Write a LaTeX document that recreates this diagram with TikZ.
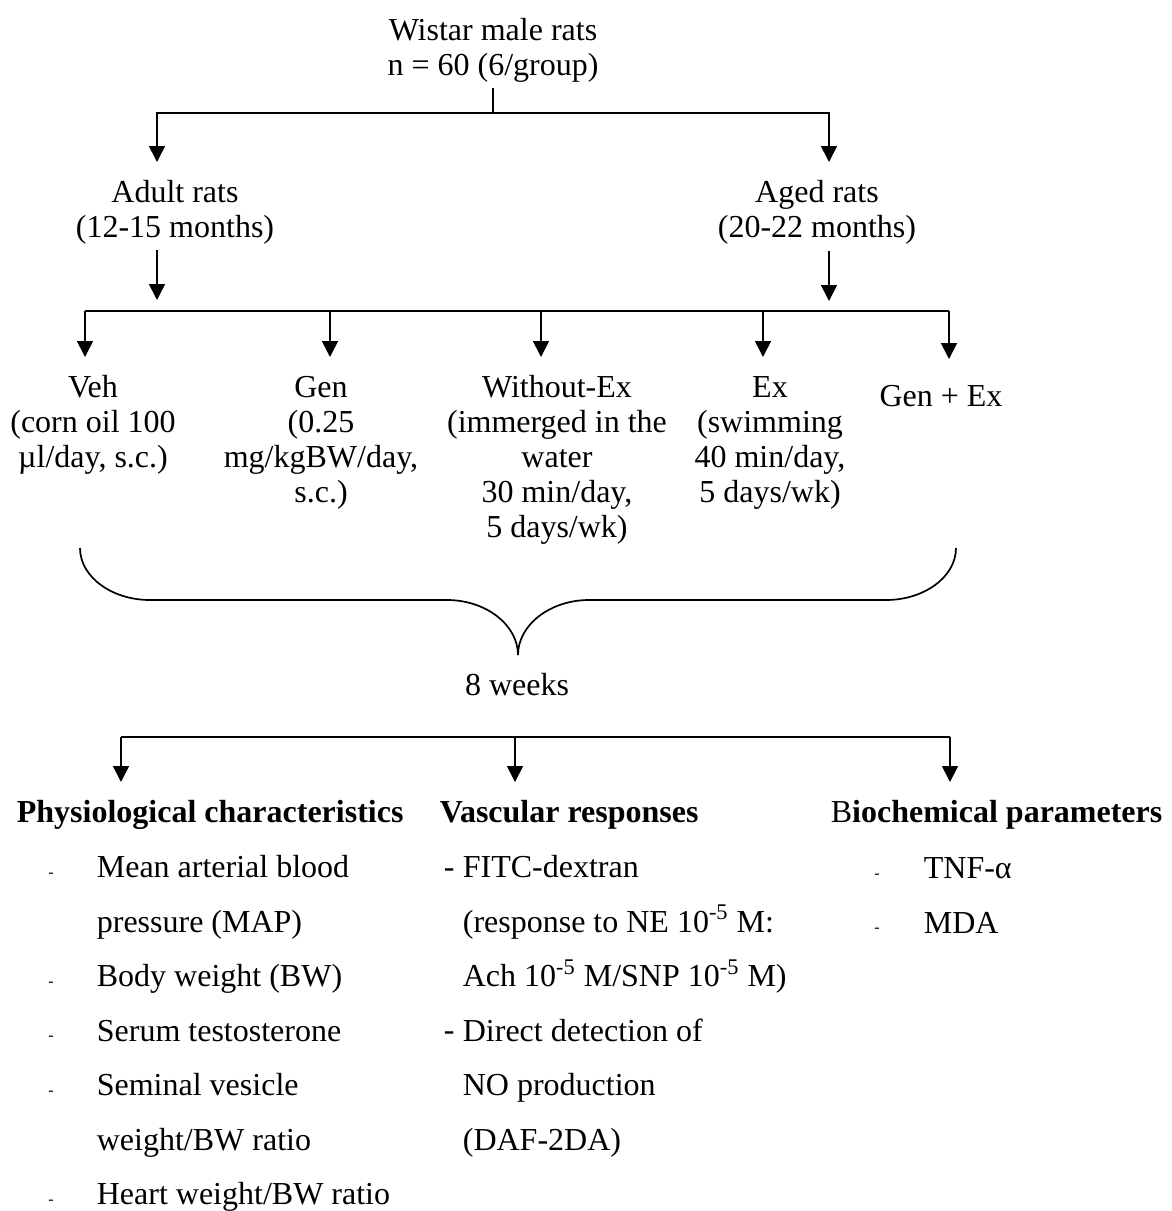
\documentclass[tikz,border=0pt]{standalone}
\usepackage{fontspec}
\setmainfont{Liberation Serif}
\usetikzlibrary{arrows.meta}
\newcommand{\fsz}{\fontsize{16pt}{17.5pt}\selectfont}
\newcommand{\lsz}{\fontsize{16pt}{27.25pt}\selectfont}
\newcommand{\tstrut}{\rule{0pt}{12.25pt}}
\begin{document}
\begin{tikzpicture}[x=0.5pt,y=-0.5pt,line width=0.85pt,
  arr/.style={-{Triangle[width=8pt,length=8pt]}},
  blk/.style={font=\fsz,align=center,inner sep=0pt,anchor=north},
  one/.style={font=\fsz,inner sep=0pt,anchor=base},
  head/.style={font=\fsz\bfseries,inner sep=0pt,anchor=base west},
  lst/.style={font=\lsz,align=left,inner sep=0pt,anchor=north west},
  sdash/.style={font=\fontsize{8pt}{9pt}\selectfont,inner sep=0pt,anchor=base},
  ldash/.style={font=\fsz,inner sep=0pt,anchor=base west}]
\path[use as bounding box] (0,0) rectangle (1172,1211);

% top
\node[blk] (wistar) at (493,15.5) {\tstrut Wistar male rats\\n = 60 (6/group)};
\node[blk] (adult) at (175,177.5) {\tstrut Adult rats\\(12-15 months)};
\node[blk] (aged) at (817,177.5) {\tstrut Aged rats\\(20-22 months)};

\coordinate (w0) at (493,88);
\coordinate (b1M) at (493,113);
\coordinate (tAd) at (157,162);
\coordinate (tAg) at (829,162);
\draw (w0) -- (b1M);
\draw[arr] (b1M) -| (tAd);
\draw[arr] (b1M) -| (tAg);

\coordinate (ad0) at (157,250); \coordinate (ad1) at (157,300);
\coordinate (ag0) at (829,251); \coordinate (ag1) at (829,301);
\draw[arr] (ad0) -- (ad1);
\draw[arr] (ag0) -- (ag1);

% groups
\node[blk] (veh) at (93,372.5) {\tstrut Veh\\(corn oil 100\\µl/day, s.c.)};
\node[blk] (gen) at (321,372.5) {\tstrut Gen\\(0.25\\mg/kgBW/day,\\s.c.)};
\node[blk] (woex) at (557,372.5) {\tstrut Without-Ex\\(immerged in the\\water\\30 min/day,\\5 days/wk)};
\node[blk] (ex) at (770,372.5) {\tstrut Ex\\(swimming\\40 min/day,\\5 days/wk)};
\node[blk] (genex) at (941,381.5) {\tstrut Gen + Ex};

\coordinate (b2L) at (85,311); \coordinate (b2R) at (949,311);
\draw[line width=1.1pt] (b2L) -- (b2R);
\coordinate (g1) at (85,311);  \coordinate (t1) at (85,357);
\coordinate (g2) at (330,311); \coordinate (t2) at (330,357);
\coordinate (g3) at (541,311); \coordinate (t3) at (541,357);
\coordinate (g4) at (763,311); \coordinate (t4) at (763,357);
\coordinate (g5) at (949,311); \coordinate (t5) at (949,359);
\draw[arr] (g1) -- (t1);
\draw[arr] (g2) -- (t2);
\draw[arr] (g3) -- (t3);
\draw[arr] (g4) -- (t4);
\draw[arr] (g5) -- (t5);

% brace
\draw (80,548) .. controls (80,577) and (112,600) .. (150,600) -- (447,600)
  .. controls (486,600) and (518,625) .. (518,655);
\draw (956,548) .. controls (956,577) and (924,600) .. (886,600) -- (589,600)
  .. controls (550,600) and (518,625) .. (518,655);
\node[one] (weeks) at (517,695) {8 weeks};

% bottom branching
\coordinate (b3L) at (121,737); \coordinate (b3M) at (515,737); \coordinate (b3R) at (950,737);
\coordinate (h1) at (121,782); \coordinate (h2) at (515,782); \coordinate (h3) at (950,782);
\draw (b3L) -- (b3R);
\draw[arr] (b3L) -- (h1);
\draw[arr] (b3M) -- (h2);
\draw[arr] (b3R) -- (h3);

\node[head] (phys) at (16,822) {Physiological characteristics};
\node[head] (vasc) at (439,822) {Vascular responses};
\node[head] (bio) at (830,822) {{\mdseries B}iochemical parameters};

% left list
\node[sdash] (d1) at (51,877) {-};
\node[lst] (p1) at (96,852.5) {\tstrut Mean arterial blood\\pressure (MAP)};
\node[sdash] (d2) at (51,986) {-};
\node[lst] (p2) at (96,961.5) {\tstrut Body weight (BW)};
\node[sdash] (d3) at (51,1040.5) {-};
\node[lst] (p3) at (96,1016) {\tstrut Serum testosterone};
\node[sdash] (d4) at (51,1095) {-};
\node[lst] (p4) at (96,1070.5) {\tstrut Seminal vesicle\\weight/BW ratio};
\node[sdash] (d5) at (51,1204) {-};
\node[lst] (p5) at (96,1179.5) {\tstrut Heart weight/BW ratio};

% middle list
\node[ldash] (e1) at (443,877) {-};
\node[lst] (v1) at (462,852.5) {\tstrut FITC-dextran\\(response to NE 10\textsuperscript{-5} M:\\Ach 10\textsuperscript{-5} M/SNP 10\textsuperscript{-5} M)};
\node[ldash] (e2) at (443,1040.5) {-};
\node[lst] (v2) at (462,1016) {\tstrut Direct detection of\\NO production\\(DAF-2DA)};

% right list
\node[sdash] (f1) at (877,878) {-};
\node[lst] (c1) at (923,853.5) {\tstrut TNF-α};
\node[sdash] (f2) at (877,932.5) {-};
\node[lst] (c2) at (923,908) {\tstrut MDA};
\end{tikzpicture}
\end{document}
